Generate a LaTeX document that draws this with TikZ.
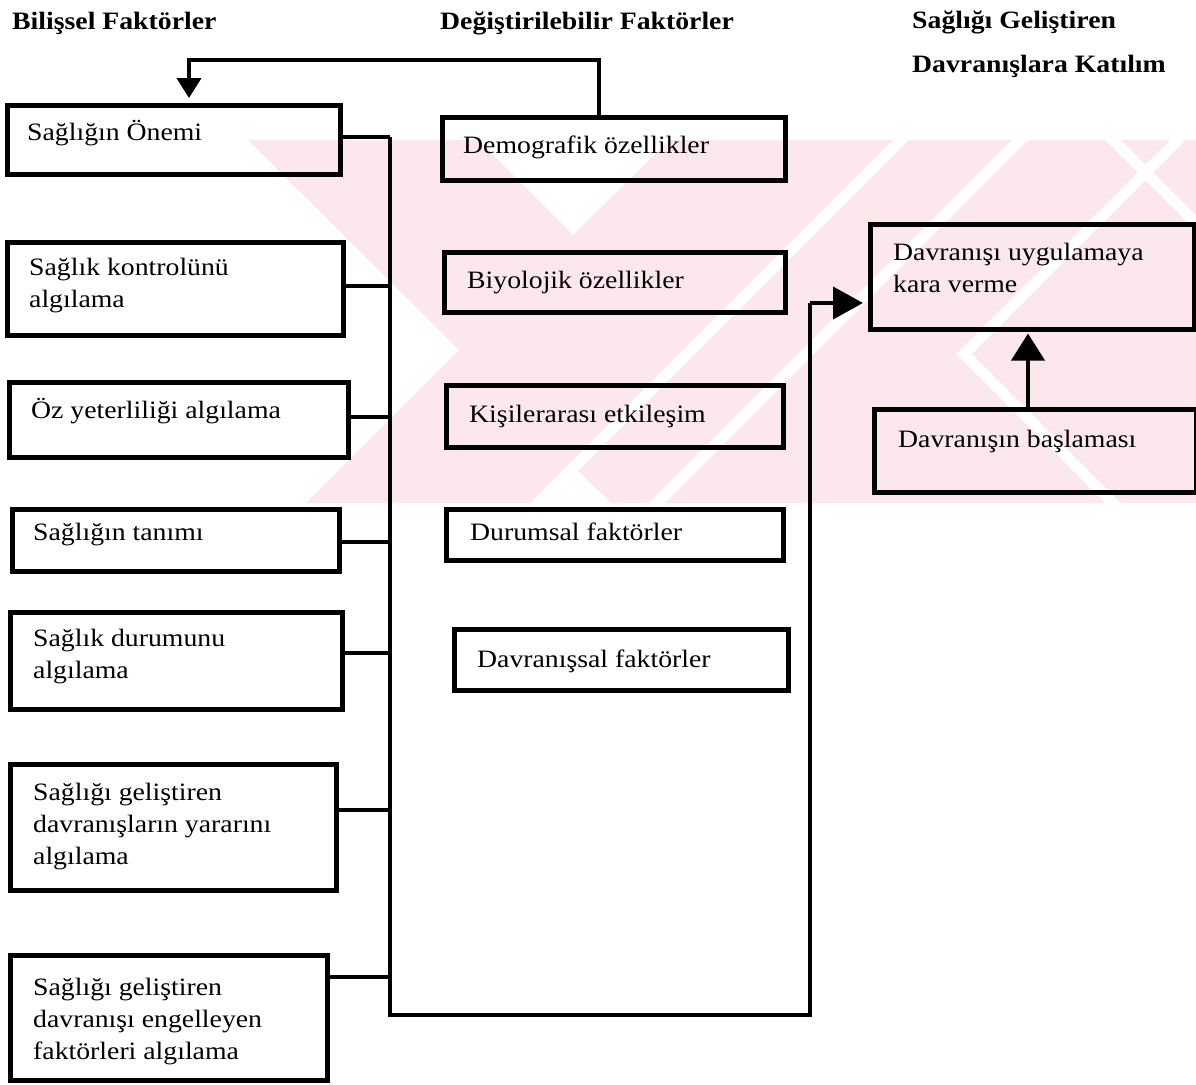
\documentclass[tikz,border=0pt]{standalone}
\usepackage{fontspec}
\setmainfont{Liberation Serif}[FakeStretch=1.11]
\usetikzlibrary{arrows.meta}
\definecolor{wmpink}{RGB}{252,231,236}
\begin{document}
\begin{tikzpicture}[x=1pt,y=-1pt,
  box/.style={draw=black, line width=4.5pt, inner sep=0pt, anchor=north west},
  lbl/.style={anchor=base west, inner sep=0pt, align=left,
              font=\fontsize{25}{32}\selectfont},
  head/.style={anchor=base west, inner sep=0pt,
              font=\fontsize{25}{32}\selectfont\bfseries},
  wire/.style={line width=4pt, line join=miter},
  bigtip/.style={-{Triangle[length=30pt,width=32pt]}},
  smalltip/.style={-{Triangle[length=20pt,width=24pt]}}
]
\useasboundingbox (0,0) rectangle (1196,1084);
\fill[white] (0,0) rectangle (1196,1084);

% background emblem
\begin{scope}
  \clip (200,140) rectangle (1196,503);
  \fill[wmpink] (248,140) -- (1196,140) -- (1196,503) -- (306,503) -- (459,350) -- cycle;
  \fill[white] (478,140) -- (573,235) -- (669,140) -- cycle;
  \fill[white] (536,503) -- (573,466) -- (611,503) -- cycle;
  \draw[white, line width=11pt] (921,120) -- (521,520);
  \draw[white, line width=11pt] (1040,120) -- (640,520);
  \draw[white, line width=11pt, line join=miter] (1198,120) -- (964,354) -- (1130,520);
  \draw[white, line width=11pt] (1093,120) -- (1300,327);
\end{scope}

% column headings
\node[head] (h1) at (12,29) {Bilişsel Faktörler};
\node[head] (h2) at (440,29) {Değiştirilebilir Faktörler};
\node[head] (h3) at (912,28) {Sağlığı Geliştiren};
\node[head] (h4) at (912,72) {Davranışlara Katılım};

% cognitive factors
\node[box, minimum width=333pt, minimum height=69pt]  (b1) at (5,103) {};
\node[box, minimum width=336pt, minimum height=93pt]  (b2) at (5,240) {};
\node[box, minimum width=339pt, minimum height=75pt]  (b3) at (7,380) {};
\node[box, minimum width=327pt, minimum height=62pt]  (b4) at (10,507) {};
\node[box, minimum width=332pt, minimum height=97pt]  (b5) at (8,610) {};
\node[box, minimum width=326pt, minimum height=126pt] (b6) at (8,762) {};
\node[box, minimum width=317pt, minimum height=125pt] (b7) at (8,953) {};

% (multi-line labels are placed by the baseline of their last line)
\node[lbl] (tb1) at (27,140) {Sağlığın Önemi};
\node[lbl] (tb2) at (29,307) {Sağlık kontrolünü\\algılama};
\node[lbl] (tb3) at (31,418) {Öz yeterliliği algılama};
\node[lbl] (tb4) at (33,540) {Sağlığın tanımı};
\node[lbl] (tb5) at (33,678) {Sağlık durumunu\\algılama};
\node[lbl] (tb6) at (33,864) {Sağlığı geliştiren\\davranışların yararını\\algılama};
\node[lbl] (tb7) at (33,1059) {Sağlığı geliştiren\\davranışı engelleyen\\faktörleri algılama};

% modifying factors
\node[box, minimum width=343pt, minimum height=63pt] (m1) at (440,115) {};
\node[box, minimum width=341pt, minimum height=60pt] (m2) at (442,250) {};
\node[box, minimum width=337pt, minimum height=62pt] (m3) at (444,383) {};
\node[box, minimum width=337pt, minimum height=51pt] (m4) at (444,507) {};
\node[box, minimum width=334pt, minimum height=61pt] (m5) at (452,627) {};

\node[lbl] (tm1) at (463,153) {Demografik özellikler};
\node[lbl] (tm2) at (467,288) {Biyolojik özellikler};
\node[lbl] (tm3) at (469,422) {Kişilerarası etkileşim};
\node[lbl] (tm4) at (470,540) {Durumsal faktörler};
\node[lbl] (tm5) at (477,667) {Davranışsal faktörler};

% participation
\node[box, minimum width=324pt, minimum height=105pt] (r1) at (868,222) {};
\node[box, minimum width=322pt, minimum height=83pt]  (r2) at (872,407) {};
\node[lbl] (tr1) at (893,292) {Davranışı uygulamaya\\kara verme};
\node[lbl] (tr2) at (898,447) {Davranışın başlaması};

% collecting line
\coordinate (busTop) at (390,137);
\coordinate (busBot) at (390,1015);
\coordinate (riseBot) at (810,1015);
\coordinate (riseTop) at (810,303);
\coordinate (s1) at (390,137);
\coordinate (s2) at (390,286);
\coordinate (s3) at (390,417);
\coordinate (s4) at (390,542);
\coordinate (s5) at (390,653);
\coordinate (s6) at (390,810);
\coordinate (s7) at (390,977);

\foreach \k in {1,...,7}{
  \draw[wire] (s\k -| b\k.east) -- (s\k);
}
\draw[wire] (busTop) -- (busBot) -- (riseBot) -- (riseTop);
\draw[wire, bigtip, shorten >=5pt] (riseTop) -- (riseTop -| r1.west);

% feedback to the first factor
\coordinate (fbA) at (599,60);
\coordinate (fbB) at (189,60);
\draw[wire, smalltip, shorten >=5pt] (fbA |- m1.north) -- (fbA) -- (fbB) -- (fbB |- b1.north);

% start of behaviour
\coordinate (up) at (1028,0);
\draw[wire, -{Triangle[length=27pt,width=33pt]}, shorten >=2pt] (up |- r2.north) -- (up |- r1.south);
\end{tikzpicture}
\end{document}
